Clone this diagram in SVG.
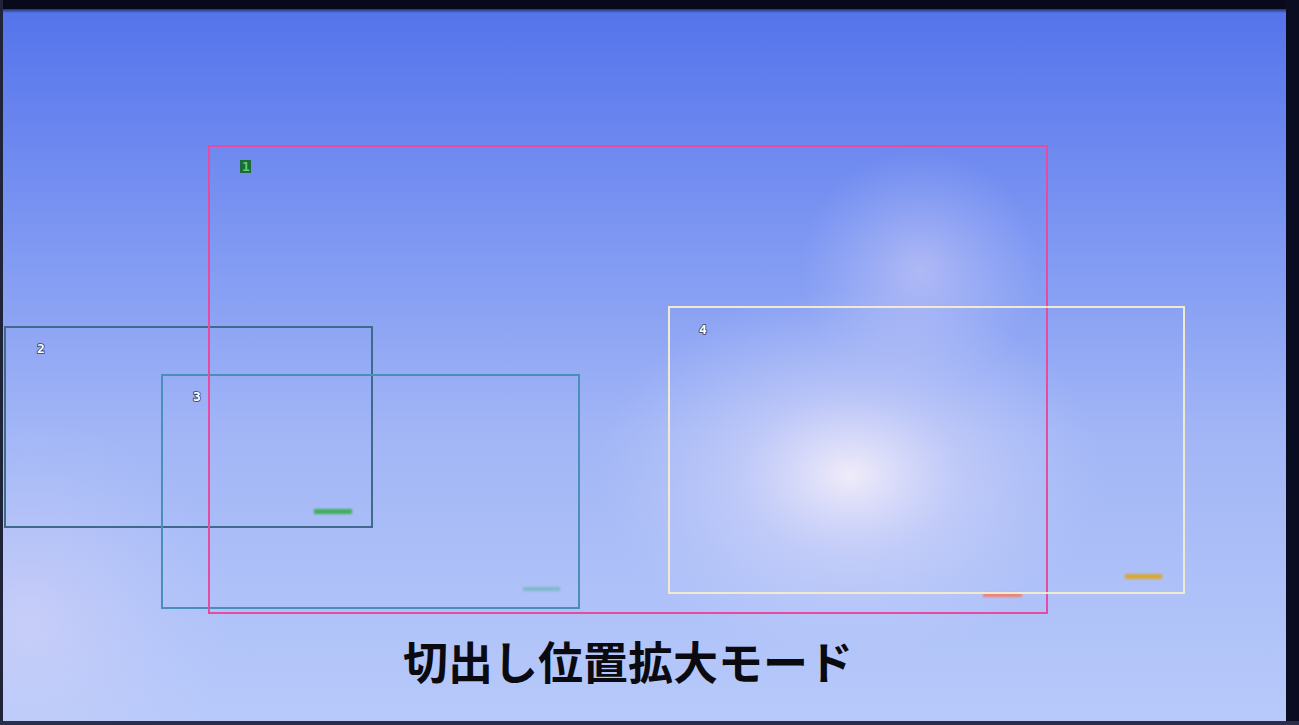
<svg xmlns="http://www.w3.org/2000/svg" width="1299" height="725" viewBox="0 0 1299 725">
<defs>
<linearGradient id="bg" x1="0" y1="0" x2="0" y2="1">
<stop offset="0" stop-color="#5272ea"/>
<stop offset="0.3" stop-color="#7a94f2"/>
<stop offset="0.6" stop-color="#a2b6f6"/>
<stop offset="1" stop-color="#b8cafa"/>
</linearGradient>
<radialGradient id="glow1" cx="850" cy="475" r="230" gradientUnits="userSpaceOnUse" gradientTransform="translate(850 475) scale(1.1 0.8) translate(-850 -475)">
<stop offset="0" stop-color="#f4eefa" stop-opacity="0.95"/>
<stop offset="0.45" stop-color="#dcdcfa" stop-opacity="0.45"/>
<stop offset="1" stop-color="#c8d0fa" stop-opacity="0"/>
</radialGradient>
<radialGradient id="glow2" cx="920" cy="270" r="120" gradientUnits="userSpaceOnUse">
<stop offset="0" stop-color="#e6dcf8" stop-opacity="0.45"/>
<stop offset="1" stop-color="#c8d0fa" stop-opacity="0"/>
</radialGradient>
<radialGradient id="glow3" cx="30" cy="620" r="200" gradientUnits="userSpaceOnUse">
<stop offset="0" stop-color="#e0d8f8" stop-opacity="0.5"/>
<stop offset="1" stop-color="#c8d0fa" stop-opacity="0"/>
</radialGradient>
<linearGradient id="topdark" x1="0" y1="0" x2="0" y2="1">
<stop offset="0" stop-color="#05081a"/>
<stop offset="1" stop-color="#05081a" stop-opacity="0"/>
</linearGradient>
<filter id="blur" x="-20%" y="-50%" width="140%" height="200%"><feGaussianBlur stdDeviation="0.8"/></filter>
</defs>
<style>
.frame{fill:none;stroke-width:2}
.num{font-family:"DejaVu Sans Mono","Liberation Mono",monospace;font-weight:bold;font-size:13px;paint-order:stroke}
.wn{fill:#ffffff;stroke:#3a3e66;stroke-width:1.6}
.title{font-family:"Noto Sans CJK JP","Noto Sans",sans-serif;font-weight:bold;font-size:45px;fill:#0a0a10}
</style>
<rect width="1299" height="725" fill="url(#bg)"/>
<rect width="1299" height="725" fill="url(#glow1)"/>
<rect width="1299" height="725" fill="url(#glow2)"/>
<rect width="1299" height="725" fill="url(#glow3)"/>
<rect x="0" y="0" width="1299" height="9" fill="#080a1c"/>
<rect x="0" y="9" width="1299" height="4" fill="url(#topdark)" opacity="0.6"/>
<rect x="1286" y="0" width="13" height="725" fill="#0a0c22"/>
<rect x="0" y="0" width="3" height="725" fill="#20243a"/>
<rect x="0" y="721" width="1299" height="4" fill="#2a2e48"/>

<g id="node-2">
<rect class="frame" x="5" y="327" width="367" height="200" stroke="#3f6a8c"/>
<text class="num wn" x="37" y="353">2</text>
<rect x="314" y="509" width="38" height="5" fill="#3fae5a" filter="url(#blur)"/>
</g>
<g id="node-3">
<rect class="frame" x="162" y="375" width="417" height="233" stroke="#4a8fba"/>
<text class="num wn" x="193" y="401">3</text>
<rect x="523" y="587" width="37" height="4" fill="#7fb8c8" filter="url(#blur)"/>
</g>
<g id="node-1">
<rect class="frame" x="209" y="146" width="838" height="467" stroke="#e84aa0"/>
<rect x="240" y="160" width="11" height="13" fill="#1e6a3a"/>
<text class="num" x="242" y="171" fill="#58d070">1</text>
<rect x="983" y="593" width="39" height="4" fill="#f08070" filter="url(#blur)"/>
</g>
<g id="node-4">
<rect class="frame" x="669" y="307" width="515" height="286" stroke="#f2ead0"/>
<text class="num wn" x="699" y="334">4</text>
<rect x="1125" y="574" width="37" height="5" fill="#d8a830" filter="url(#blur)"/>
</g>
<g id="connectors"/>
<text class="title" x="628" y="680" text-anchor="middle">切出し位置拡大モード</text>
</svg>
